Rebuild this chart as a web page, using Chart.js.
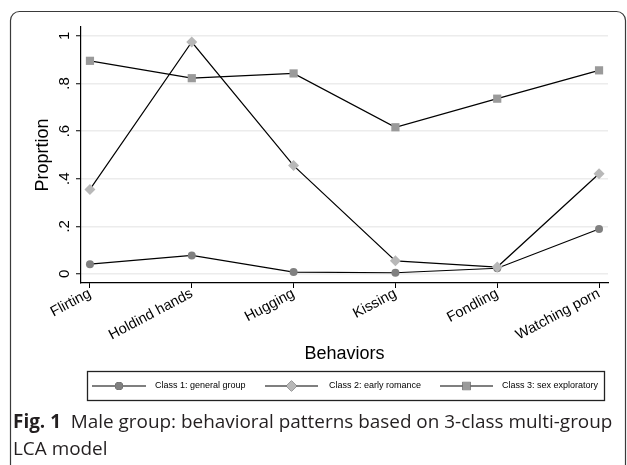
<!DOCTYPE html>
<html><head><meta charset="utf-8">
<script src="https://cdn.jsdelivr.net/npm/chart.js@4.4.0/dist/chart.umd.min.js"></script>
<style>html,body{margin:0;padding:0;background:#fff;overflow:hidden}canvas{display:block}</style>
</head><body>
<canvas id="c" width="627" height="465"></canvas>
<script>
// ---- data ----
const categories = ['Flirting', 'Holdind hands', 'Hugging', 'Kissing', 'Fondling', 'Watching porn'];
const class1 = [0.041, 0.078, 0.008, 0.005, 0.024, 0.189];
const class2 = [0.355, 0.974, 0.455, 0.055, 0.029, 0.421];
const class3 = [0.895, 0.822, 0.842, 0.616, 0.736, 0.855];
const seriesNames = ['Class 1: general group', 'Class 2: early romance', 'Class 3: sex exploratory'];
const yTickValues = [0, 0.2, 0.4, 0.6, 0.8, 1];
const yTickLabels = ['0', '.2', '.4', '.6', '.8', '1'];
const xTitle = 'Behaviors';
const yTitle = 'Proprtion';
const captionBold = 'Fig. 1';
const captionLine1 = 'Male group: behavioral patterns based on 3-class multi-group';
const captionLine2 = 'LCA model';

const FONT = '"Liberation Sans", Arial, sans-serif';
const CAPFONT = '"Open Sans", "Noto Sans", sans-serif';

const toPoints = arr => arr.map((v, i) => ({x: i, y: v}));

function ds(label, values, style, color, radius, order) {
  return {
    label, data: toPoints(values), order,
    borderColor: '#000', borderWidth: 1.2, tension: 0, fill: false,
    pointStyle: style, pointRadius: radius, pointHoverRadius: radius,
    pointBackgroundColor: color, pointBorderColor: color, pointBorderWidth: 0
  };
}

const styles = [
  {style: 'circle', color: '#808080', radius: 4},
  {style: 'rectRot', color: '#b8b8b8', radius: 5.5},
  {style: 'rect', color: '#9a9a9a', radius: 5.8}
];

const decor = {
  id: 'decor',
  afterDraw(chart) {
    const ctx = chart.ctx;
    ctx.save();
    // outer rounded frame
    ctx.strokeStyle = '#3a3a3a';
    ctx.lineWidth = 1.2;
    ctx.beginPath();
    ctx.roundRect(10.5, 11.5, 615, 480, 9);
    ctx.stroke();

    // legend box
    ctx.strokeStyle = '#222';
    ctx.lineWidth = 1.3;
    ctx.strokeRect(87.5, 371.5, 517, 29);
    const items = [
      {x0: 92, x1: 146, tx: 155},
      {x0: 265, x1: 318, tx: 329},
      {x0: 440, x1: 493, tx: 502}
    ];
    const ly = 386;
    chart.data.datasets.forEach((d, i) => {
      const it = items[i];
      ctx.strokeStyle = '#000';
      ctx.lineWidth = 1.2;
      ctx.beginPath();
      ctx.moveTo(it.x0, ly); ctx.lineTo(it.x1, ly); ctx.stroke();
      Chart.helpers.drawPoint(ctx, {
        pointStyle: d.pointStyle, radius: d.pointRadius, borderWidth: 0, rotation: 0
      }, (it.x0 + it.x1) / 2, ly);
      ctx.fillStyle = d.pointBackgroundColor;
      ctx.fill();
      ctx.fillStyle = '#000';
      ctx.font = '9px ' + FONT;
      ctx.textBaseline = 'middle';
      ctx.textAlign = 'left';
      ctx.fillText(d.label, it.tx, ly);
    });

    // caption
    ctx.textBaseline = 'alphabetic';
    ctx.fillStyle = '#231f20';
    let size = 17;
    const measure = s => {
      ctx.font = 'bold ' + s + 'px ' + CAPFONT;
      const a = ctx.measureText(captionBold + '  ').width;
      ctx.font = s + 'px ' + CAPFONT;
      return a + ctx.measureText(captionLine1).width;
    };
    size = size * 600 / measure(size);
    ctx.font = 'bold ' + size + 'px ' + CAPFONT;
    ctx.fillText(captionBold, 13, 428);
    const bw = ctx.measureText(captionBold + '  ').width;
    ctx.font = size + 'px ' + CAPFONT;
    ctx.fillText(captionLine1, 13 + bw, 428);
    ctx.fillText(captionLine2, 13, 455);
    ctx.restore();
  }
};

new Chart(document.getElementById('c'), {
  type: 'line',
  data: {
    datasets: [
      ds(seriesNames[0], class1, styles[0].style, styles[0].color, styles[0].radius, 3),
      ds(seriesNames[1], class2, styles[1].style, styles[1].color, styles[1].radius, 2),
      ds(seriesNames[2], class3, styles[2].style, styles[2].color, styles[2].radius, 1)
    ]
  },
  options: {
    responsive: false, animation: false, devicePixelRatio: 1,
    layout: {padding: {top: 27, right: 19, bottom: 0, left: 0}},
    plugins: {legend: {display: false}, tooltip: {enabled: false}},
    scales: {
      x: {
        type: 'linear', min: -0.088, max: 5.088,
        afterFit: s => { s.height = 182; },
        afterBuildTicks: s => { s.ticks = categories.map((c, i) => ({value: i})); },
        ticks: {
          autoSkip: false, minRotation: 28, maxRotation: 28, padding: -3,
          color: '#000', font: {family: FONT, size: 14.5},
          callback: v => categories[v]
        },
        grid: {drawOnChartArea: false, drawTicks: true, tickLength: 5, tickColor: '#000', tickWidth: 1},
        border: {display: true, color: '#000', width: 1.2},
        title: {display: true, text: xTitle, color: '#000', font: {family: FONT, size: 18}, padding: {top: 0, bottom: 100}}
      },
      y: {
        type: 'linear', min: -0.038, max: 1.037,
        afterFit: s => { s.width = 81; },
        afterBuildTicks: s => { s.ticks = yTickValues.map(v => ({value: v})); },
        ticks: {
          minRotation: 90, maxRotation: 90, crossAlign: 'center', padding: 5,
          color: '#000', font: {family: FONT, size: 15},
          callback: v => yTickLabels[yTickValues.indexOf(v)]
        },
        grid: {color: '#ececec', lineWidth: 1.5, drawTicks: true, tickLength: 5, tickColor: '#000', tickWidth: 1},
        border: {display: true, color: '#000', width: 1.2},
        title: {display: true, text: yTitle, color: '#000', font: {family: FONT, size: 18}, padding: {top: 32, bottom: 0}}
      }
    }
  },
  plugins: [decor]
});
</script>
</body></html>
